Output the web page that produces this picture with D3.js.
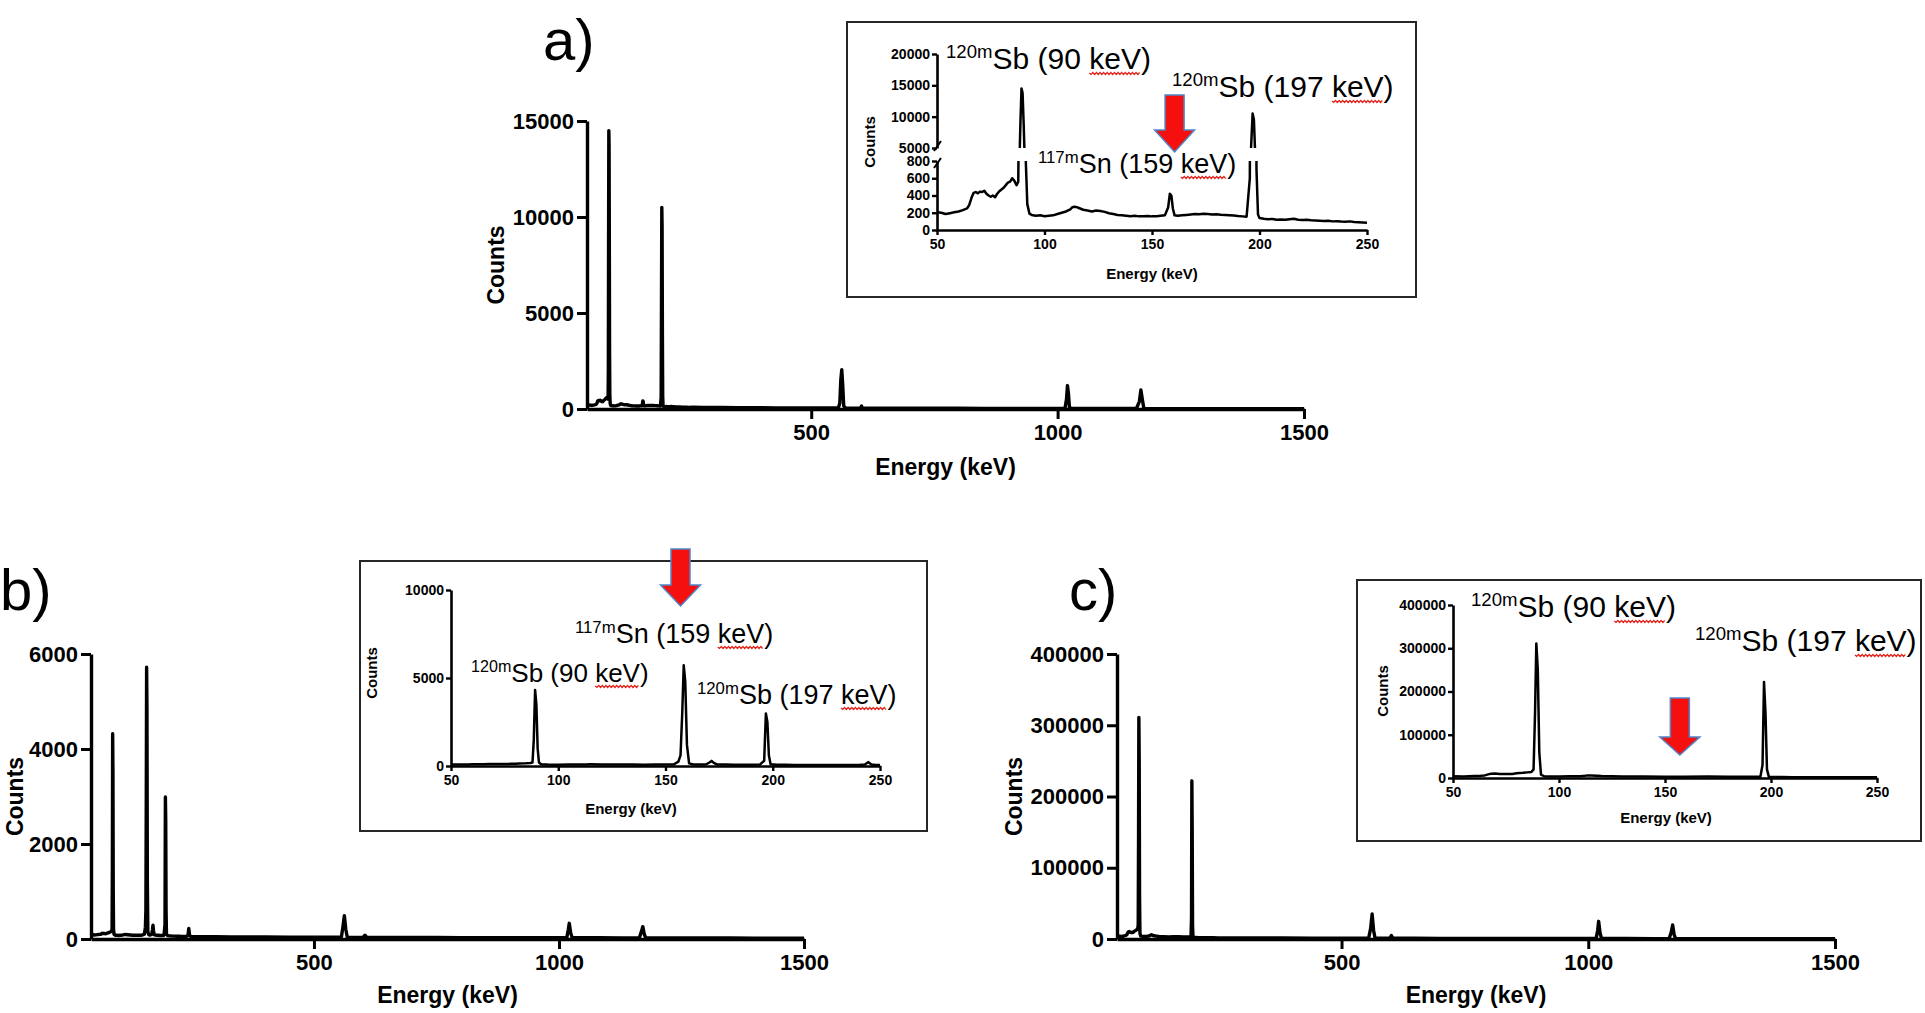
<!DOCTYPE html>
<html><head><meta charset="utf-8">
<script src="https://cdn.jsdelivr.net/npm/d3@7"></script>
<style>
body{margin:0;background:#fff;}
svg{display:block;}
text{font-family:"Liberation Sans",Arial,Helvetica,sans-serif;}
</style></head><body>
<script>
// ---------------- DATA ----------------
const energyDomain = [45, 1500];
const insetEnergyDomain = [50, 250];
const xTicksMain = [500, 1000, 1500];
const xTicksInset = [50, 100, 150, 200, 250];
const yTicksA = [0, 5000, 10000, 15000];
const yTicksB = [0, 2000, 4000, 6000];
const yTicksC = [0, 100000, 200000, 300000, 400000];
const insetATicksLow = [0, 200, 400, 600, 800];
const insetATicksHigh = [5000, 10000, 15000, 20000];
const insetBTicks = [0, 5000, 10000];
const insetCTicks = [0, 100000, 200000, 300000, 400000];
const panelLabels = ["a)", "b)", "c)"];

// spectrum a: [energy keV, counts]
const spectrumA = [[45,150],[48,190],[50,205],[52,200],[54,185],[56,195],[58,205],[60,215],[62,230],[64,250],[65,290],[66,370],[67,430],[68,440],[69,425],[70,445],[71,440],[72,455],[73,420],[74,400],[75,385],[76,400],[77,380],[78,420],[79,450],[80,470],[81,490],[82,520],[83,550],[84,560],[85,600],[86,570],[87,520],[87.8,560],[88.3,2000],[88.8,9000],[89.3,14500],[89.8,13800],[90.3,9000],[90.8,3000],[91.3,800],[92,300],[93,190],[94,175],[96,165],[98,170],[100,160],[102,165],[104,170],[106,185],[108,200],[110,215],[112,240],[113,265],[114,270],[115,265],[116,255],[118,235],[120,225],[122,215],[124,225],[126,220],[128,210],[130,195],[132,185],[134,175],[136,170],[138,165],[140,160],[142,165],[144,158],[146,160],[148,162],[150,158],[152,160],[154,165],[156,170],[157.5,260],[158.3,420],[159,400],[159.7,250],[160.5,170],[162,165],[164,170],[166,175],[168,180],[170,185],[172,182],[174,188],[176,185],[178,180],[180,183],[182,178],[184,175],[186,172],[188,168],[190,162],[192,158],[194,155],[195.5,600],[196.2,6000],[196.8,10500],[197.4,9500],[198,4000],[198.6,700],[199.3,180],[200,140],[202,130],[204,125],[206,128],[208,120],[210,122],[212,118],[214,125],[216,130],[218,120],[220,115],[222,118],[224,112],[226,110],[228,108],[230,105],[232,108],[234,100],[236,102],[238,98],[240,96],[242,100],[244,92],[246,90],[248,88],[250,85],[260,90],[280,85],[300,80],[320,75],[350,70],[380,65],[400,65],[430,60],[460,55],[500,55],[530,50],[555,55],[558,300],[560,1500],[562,2050],[564,1200],[566,150],[570,50],[600,45],[602,150],[604,45],[650,45],[700,40],[750,40],[800,38],[850,35],[900,35],[950,30],[1000,30],[1015,35],[1018,500],[1020,1220],[1022,800],[1024,60],[1030,28],[1080,25],[1120,25],[1160,25],[1166,400],[1169,990],[1172,500],[1175,25],[1200,20],[1250,20],[1300,18],[1350,15],[1400,15],[1450,12],[1500,10]];

// spectrum b
const spectrumB = [[45,60],[48,80],[50,90],[52,85],[55,88],[58,92],[60,95],[62,98],[65,100],[68,120],[70,115],[72,118],[75,110],[78,122],[80,130],[82,138],[85,150],[87,170],[88,200],[88.6,1500],[89.2,4320],[89.8,3500],[90.4,1000],[91,200],[92,100],[95,80],[98,78],[100,75],[105,80],[110,85],[113,92],[115,95],[120,90],[125,85],[130,80],[135,80],[140,78],[145,80],[150,85],[154,100],[156,250],[157,600],[157.8,3000],[158.5,5720],[159.2,4800],[160,1200],[161,150],[163,90],[166,85],[169,100],[170.5,200],[171.5,290],[172.5,180],[174,90],[178,80],[182,78],[186,75],[190,75],[194,80],[196,300],[196.8,2990],[197.5,2500],[198.2,600],[199,100],[202,70],[206,65],[210,62],[215,60],[220,58],[225,60],[230,55],[235,55],[240,55],[243,80],[244.5,220],[246,90],[248,52],[250,50],[270,50],[300,48],[330,45],[360,45],[400,42],[450,40],[500,40],[540,38],[556,40],[559,250],[562,490],[565,200],[568,38],[600,35],[604,80],[608,35],[650,34],[700,33],[750,32],[800,30],[850,30],[900,28],[950,28],[1000,27],[1016,30],[1019,200],[1021,330],[1024,120],[1027,26],[1080,25],[1130,24],[1164,25],[1168,150],[1171,260],[1174,100],[1177,23],[1250,22],[1300,20],[1350,20],[1400,18],[1450,18],[1500,16]];

// spectrum c
const spectrumC = [[45,3000],[48,3500],[50,4000],[55,3500],[60,4500],[63,5000],[65,6000],[67,9000],[68,10000],[70,10500],[72,9500],[75,9000],[78,9500],[80,11000],[83,12000],[85,13000],[87,14000],[88,20000],[88.7,150000],[89.3,311000],[90,250000],[90.7,60000],[91.5,8000],[93,4000],[96,3600],[100,3500],[105,3800],[110,4200],[113,5500],[115,6000],[118,5000],[120,4500],[125,4000],[130,3500],[140,3200],[150,3000],[159,3100],[170,3200],[180,3000],[190,2800],[195,3000],[196,30000],[196.7,222000],[197.4,150000],[198.1,20000],[199,2500],[205,2200],[210,2000],[220,1900],[230,1800],[240,1700],[250,1600],[280,1500],[320,1400],[380,1300],[440,1200],[500,1100],[540,1100],[555,1200],[559,15000],[562,35000],[565,12000],[568,1100],[598,1000],[601,5000],[604,1000],[650,950],[700,900],[760,850],[820,800],[880,780],[940,750],[1000,700],[1016,800],[1019,12000],[1021,24800],[1024,8000],[1027,650],[1080,600],[1130,580],[1164,600],[1168,9000],[1171,19600],[1174,6000],[1177,550],[1250,500],[1300,480],[1350,450],[1400,420],[1450,400],[1500,380]];

// annotation texts: [superscript, main]
const annotationsA = [["120m","Sb (90 keV)"],["120m","Sb (197 keV)"],["117m","Sn (159 keV)"]];
const annotationsB = [["117m","Sn (159 keV)"],["120m","Sb (90 keV)"],["120m","Sb (197 keV)"]];
const annotationsC = [["120m","Sb (90 keV)"],["120m","Sb (197 keV)"]];
const arrowEnergies = [160.5, 157, 157];

// ---------------- DRAWING ----------------
const W = 1925, H = 1013;
const svg = d3.select("body").append("svg").attr("width", W).attr("height", H);
svg.append("rect").attr("width", W).attr("height", H).attr("fill", "#fff");
let clipId = 0;

function styleAxis(a, fs, sw, tw) {
  a.attr("font-family", null).attr("font-size", null);
  a.select(".domain").attr("stroke", "#000").attr("stroke-width", sw);
  a.selectAll(".tick line").attr("stroke", "#000").attr("stroke-width", tw);
  a.selectAll("text").attr("font-size", fs).attr("font-weight", "bold").attr("fill", "#000");
}

function mainPanel(o) {
  const g = svg.append("g");
  const x = d3.scaleLinear().domain(energyDomain).range([o.x0, o.x1]);
  const y = d3.scaleLinear().domain([0, o.yMax]).range([o.yBot, o.yTop]);
  g.append("path").datum(o.data)
    .attr("d", d3.line().x(d => x(d[0])).y(d => y(d[1])))
    .attr("fill", "none").attr("stroke", "#000").attr("stroke-width", 3.4).attr("stroke-linejoin", "round");
  const xa = g.append("g").attr("transform", `translate(0,${o.yBot})`)
    .call(d3.axisBottom(x).tickValues(xTicksMain).tickSize(10).tickSizeOuter(0).tickPadding(5).tickFormat(d3.format("d")));
  const ya = g.append("g").attr("transform", `translate(${o.x0},0)`)
    .call(d3.axisLeft(y).tickValues(o.yTicks).tickSize(10).tickSizeOuter(0).tickPadding(3).tickFormat(d3.format("d")));
  styleAxis(xa, 22, 3.4, 3);
  styleAxis(ya, 22, 3.4, 3);
  g.append("text").attr("x", (o.x0 + o.x1) / 2).attr("y", o.titleY).attr("text-anchor", "middle")
    .attr("font-size", 23).attr("font-weight", "bold").text("Energy (keV)");
  g.append("text").attr("transform", `translate(${o.countsX},${(o.yTop + o.yBot) / 2}) rotate(-90)`)
    .attr("text-anchor", "middle").attr("dominant-baseline", "central")
    .attr("font-size", 23).attr("font-weight", "bold").text("Counts");
  g.append("text").attr("x", o.labelX).attr("y", o.labelY).attr("font-size", 58).text(o.label);
}

function clipRect(x, y, w, h) {
  const id = "clip" + (clipId++);
  svg.append("clipPath").attr("id", id).append("rect").attr("x", x).attr("y", y).attr("width", w).attr("height", h);
  return `url(#${id})`;
}

function insetBox(o) {
  svg.append("rect").attr("x", o.bx).attr("y", o.by).attr("width", o.bw).attr("height", o.bh)
    .attr("fill", "#fff").attr("stroke", "#262626").attr("stroke-width", 2);
}

function insetCommon(o, x) {
  const g = svg.append("g");
  const xa = g.append("g").attr("transform", `translate(0,${o.yBot})`)
    .call(d3.axisBottom(x).tickValues(xTicksInset).tickSize(5).tickSizeOuter(0).tickPadding(4).tickFormat(d3.format("d")));
  styleAxis(xa, 14, 2.6, 2.4);
  g.append("text").attr("x", o.energyX).attr("y", o.energyY).attr("text-anchor", "middle")
    .attr("font-size", 15).attr("font-weight", "bold").text("Energy (keV)");
  g.append("text").attr("transform", `translate(${o.countsX},${o.countsY}) rotate(-90)`)
    .attr("text-anchor", "middle").attr("dominant-baseline", "central")
    .attr("font-size", 15).attr("font-weight", "bold").text("Counts");
}

function insetSimple(o) {
  insetBox(o);
  const x = d3.scaleLinear().domain(insetEnergyDomain).range([o.x0, o.x1]);
  const y = d3.scaleLinear().domain([0, o.yMax]).range([o.yBot, o.yTop]);
  const data = o.data.filter(d => d[0] >= 50 && d[0] <= 250);
  svg.append("path").datum(data)
    .attr("d", d3.line().x(d => x(d[0])).y(d => y(d[1])))
    .attr("fill", "none").attr("stroke", "#000").attr("stroke-width", 2.5).attr("stroke-linejoin", "round");
  const ya = svg.append("g").attr("transform", `translate(${o.x0},0)`)
    .call(d3.axisLeft(y).tickValues(o.yTicks).tickSize(5).tickSizeOuter(0).tickPadding(2).tickFormat(d3.format("d")));
  styleAxis(ya, 14, 2.6, 2.4);
  insetCommon(o, x);
  return x;
}

function insetBroken(o) {
  insetBox(o);
  const x = d3.scaleLinear().domain(insetEnergyDomain).range([o.x0, o.x1]);
  const yL = d3.scaleLinear().domain([0, 800]).range([o.yBot, o.yLowTop]);
  const yU = d3.scaleLinear().domain([5000, 20000]).range([o.yUpBot, o.yTop]);
  const data = o.data.filter(d => d[0] >= 50 && d[0] <= 250);
  svg.append("path").datum(data)
    .attr("d", d3.line().x(d => x(d[0])).y(d => yL(d[1])))
    .attr("clip-path", clipRect(o.x0 - 2, o.yLowTop, o.x1 - o.x0 + 6, o.yBot - o.yLowTop + 6))
    .attr("fill", "none").attr("stroke", "#000").attr("stroke-width", 2.5).attr("stroke-linejoin", "round");
  svg.append("path").datum(data)
    .attr("d", d3.line().x(d => x(d[0])).y(d => yU(d[1])))
    .attr("clip-path", clipRect(o.x0 - 2, o.yTop - 4, o.x1 - o.x0 + 6, o.yUpBot - o.yTop + 4))
    .attr("fill", "none").attr("stroke", "#000").attr("stroke-width", 2.5).attr("stroke-linejoin", "round");
  const yaL = svg.append("g").attr("transform", `translate(${o.x0},0)`)
    .call(d3.axisLeft(yL).tickValues(insetATicksLow).tickSize(5).tickSizeOuter(0).tickPadding(2).tickFormat(d3.format("d")));
  styleAxis(yaL, 14, 2.6, 2.4);
  const yaU = svg.append("g").attr("transform", `translate(${o.x0},0)`)
    .call(d3.axisLeft(yU).tickValues(insetATicksHigh).tickSize(5).tickSizeOuter(0).tickPadding(2).tickFormat(d3.format("d")));
  styleAxis(yaU, 14, 2.6, 2.4);
  // break marks
  [o.yLowTop + 2, o.yUpBot - 2].forEach(yy => {
    svg.append("line").attr("x1", o.x0 - 3).attr("y1", yy + 5).attr("x2", o.x0 + 4).attr("y2", yy - 5)
      .attr("stroke", "#000").attr("stroke-width", 2);
  });
  insetCommon(o, x);
  return x;
}

function annot(x, y, size, pair) {
  const t = svg.append("text").attr("x", x).attr("y", y).attr("font-size", size).attr("fill", "#000");
  t.append("tspan").attr("font-size", size * 0.62).attr("dy", -size * 0.37).text(pair[0]);
  t.append("tspan").attr("dy", size * 0.37).text(pair[1]);
  const full = pair[0] + pair[1];
  const i = full.indexOf("keV");
  const n = t.node();
  const s = n.getStartPositionOfChar(i).x;
  const e = n.getEndPositionOfChar(i + 2).x;
  const yy = y + 4;
  let d = `M${s},${yy}`;
  let k = 0;
  for (let xx = s + 1.8; xx <= e; xx += 1.8) { d += `L${xx},${yy + (k % 2 === 0 ? 1.5 : -0.5)}`; k++; }
  svg.append("path").attr("d", d).attr("fill", "none").attr("stroke", "#e3261d").attr("stroke-width", 1.2);
}

function arrow(cx, top, headY, tip) {
  const hw = 9.5, HW = 20;
  const pts = [[cx - hw, top], [cx - hw, headY], [cx - HW, headY], [cx, tip], [cx + HW, headY], [cx + hw, headY], [cx + hw, top]];
  svg.append("path").attr("d", d3.line()(pts) + "Z").attr("fill", "#f50f0f").attr("stroke", "#4f86c6").attr("stroke-width", 1.5);
}

// ---- Panel a ----
mainPanel({ data: spectrumA, x0: 587, x1: 1304, yTop: 121, yBot: 409, yMax: 15000, yTicks: yTicksA,
  titleY: 475, countsX: 496, label: panelLabels[0], labelX: 543, labelY: 60 });
const xiA = insetBroken({ data: spectrumA, bx: 847, by: 22, bw: 569, bh: 275, x0: 937, x1: 1367,
  yBot: 230, yLowTop: 161, yUpBot: 148, yTop: 54, energyX: 1152, energyY: 279, countsX: 869, countsY: 142 });
annot(946, 69, 30, annotationsA[0]);
annot(1172, 97, 30, annotationsA[1]);
annot(1038, 173, 27, annotationsA[2]);
arrow(xiA(arrowEnergies[0]), 95, 130, 152);

// ---- Panel b ----
mainPanel({ data: spectrumB, x0: 91, x1: 804, yTop: 654, yBot: 939, yMax: 6000, yTicks: yTicksB,
  titleY: 1003, countsX: 15, label: panelLabels[1], labelX: 0, labelY: 610 });
const xiB = insetSimple({ data: spectrumB, bx: 360, by: 561, bw: 567, bh: 270, x0: 451, x1: 880,
  yBot: 766, yTop: 590, yMax: 10000, yTicks: insetBTicks, energyX: 631, energyY: 814, countsX: 371, countsY: 673 });
annot(575, 643, 27, annotationsB[0]);
annot(471, 682, 26, annotationsB[1]);
annot(697, 704, 27, annotationsB[2]);
arrow(xiB(arrowEnergies[1]), 549, 585, 606);

// ---- Panel c ----
mainPanel({ data: spectrumC, x0: 1117, x1: 1835, yTop: 654, yBot: 939, yMax: 400000, yTicks: yTicksC,
  titleY: 1003, countsX: 1014, label: panelLabels[2], labelX: 1069, labelY: 610 });
const xiC = insetSimple({ data: spectrumC, bx: 1357, by: 580, bw: 564, bh: 261, x0: 1453, x1: 1877,
  yBot: 778, yTop: 605, yMax: 400000, yTicks: insetCTicks, energyX: 1666, energyY: 823, countsX: 1382, countsY: 691 });
annot(1471, 617, 30, annotationsC[0]);
annot(1695, 651, 30, annotationsC[1]);
arrow(xiC(arrowEnergies[2]), 698, 737, 755);
</script>
</body></html>
